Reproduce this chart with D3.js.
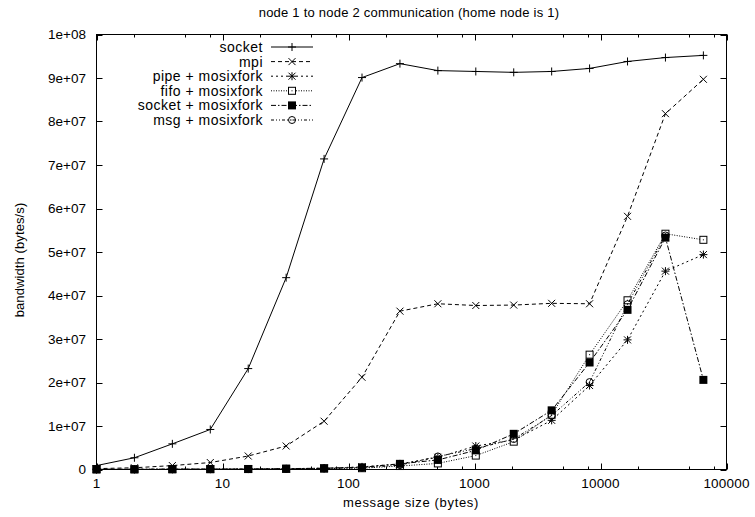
<!DOCTYPE html>
<html><head><meta charset="utf-8">
<script src="https://cdn.jsdelivr.net/npm/d3@7/dist/d3.min.js"></script>
<style>
html,body{margin:0;padding:0;background:#fff;}
text{font-family:"Liberation Sans",Arial,Helvetica,sans-serif;fill:#000;}
</style></head>
<body>
<script>
const sizes = [1,2,4,8,16,32,64,128,256,512,1024,2048,4096,8192,16384,32768,65536];
const socket     = [0.9e6,2.7e6,5.9e6,9.2e6,23.2e6,44.1e6,71.4e6,90.1e6,93.3e6,91.7e6,91.5e6,91.3e6,91.5e6,92.2e6,93.8e6,94.7e6,95.2e6];
const mpi        = [0.2e6,0.4e6,0.9e6,1.6e6,3.1e6,5.4e6,11.1e6,21.2e6,36.4e6,38.1e6,37.7e6,37.8e6,38.2e6,38.1e6,58.2e6,81.8e6,89.7e6];
const pipeMosix  = [0.02e6,0.04e6,0.06e6,0.08e6,0.1e6,0.15e6,0.3e6,0.6e6,1.3e6,2.8e6,5.4e6,6.8e6,11.3e6,19.3e6,29.8e6,45.6e6,49.4e6];
const fifoMosix  = [0.02e6,0.03e6,0.05e6,0.07e6,0.1e6,0.15e6,0.2e6,0.3e6,0.8e6,1.4e6,3.2e6,6.4e6,12.6e6,26.4e6,38.9e6,54.2e6,52.8e6];
const sockMosix  = [0.05e6,0.05e6,0.08e6,0.1e6,0.12e6,0.2e6,0.3e6,0.5e6,1.3e6,2.2e6,4.4e6,8.2e6,13.6e6,24.6e6,36.7e6,53.3e6,20.6e6];
const msgMosix   = [0.03e6,0.04e6,0.06e6,0.08e6,0.1e6,0.15e6,0.25e6,0.4e6,1.0e6,3.0e6,4.8e6,7.0e6,12.4e6,20.1e6,38.0e6,53.8e6];
const seriesNames = ["socket","mpi","pipe + mosixfork","fifo + mosixfork","socket + mosixfork","msg + mosixfork"];
const xTickValues = [1,10,100,1000,10000,100000];
const xTickLabels = ["1","10","100","1000","10000","100000"];
const yTickValues = [0,1e7,2e7,3e7,4e7,5e7,6e7,7e7,8e7,9e7,1e8];
const yTickLabels = ["0","1e+07","2e+07","3e+07","4e+07","5e+07","6e+07","7e+07","8e+07","9e+07","1e+08"];
const titleText = "node 1 to node 2 communication (home node is 1)";
const xLabel = "message size (bytes)";
const yLabel = "bandwidth (bytes/s)";

const W = 755, H = 517;
const L = 96.5, R = 726.5, T = 34.5, B = 469.5;
const svg = d3.select("body").append("svg").attr("width",W).attr("height",H);
const x = d3.scaleLog().domain([1,100000]).range([L,R]);
const y = d3.scaleLinear().domain([0,1e8]).range([B,T]);

const styles = [
  {dash:null, marker:"plus"},
  {dash:"4,3", marker:"cross"},
  {dash:"2,3", marker:"star"},
  {dash:"1,1.5", marker:"osq"},
  {dash:"5,2,1.5,2", marker:"fsq"},
  {dash:"3,2,1,2,1,2", marker:"ocirc"}
];
const data = [socket,mpi,pipeMosix,fifoMosix,sockMosix,msgMosix];

// frame
const g = svg.append("g");
g.append("rect").attr("x",L).attr("y",T).attr("width",R-L).attr("height",B-T)
  .attr("fill","none").attr("stroke","#000").attr("stroke-width",1);

// x ticks (major and minor, mirrored)
const minor = [];
for (let d=1; d<100000; d*=10) [2,5,8].forEach(m=>minor.push(d*m));
xTickValues.forEach(v=>{
  const px = Math.round(x(v))+0.5;
  g.append("line").attr("x1",px).attr("x2",px).attr("y1",B).attr("y2",B-6).attr("stroke","#000");
  g.append("line").attr("x1",px).attr("x2",px).attr("y1",T).attr("y2",T+6).attr("stroke","#000");
});
minor.forEach(v=>{
  const px = Math.round(x(v))+0.5;
  g.append("line").attr("x1",px).attr("x2",px).attr("y1",B).attr("y2",B-3).attr("stroke","#000");
  g.append("line").attr("x1",px).attr("x2",px).attr("y1",T).attr("y2",T+3).attr("stroke","#000");
});
xTickValues.forEach((v,i)=>{
  g.append("text").attr("x",x(v)).attr("y",488).attr("text-anchor","middle")
   .attr("font-size",13.5).attr("letter-spacing",0.2).text(xTickLabels[i]);
});
yTickValues.forEach((v,i)=>{
  const py = Math.round(y(v))+0.5;
  g.append("line").attr("x1",L).attr("x2",L+6).attr("y1",py).attr("y2",py).attr("stroke","#000");
  g.append("line").attr("x1",R).attr("x2",R-6).attr("y1",py).attr("y2",py).attr("stroke","#000");
  g.append("text").attr("x",86).attr("y",y(v)).attr("dy","0.35em").attr("text-anchor","end")
   .attr("font-size",13.5).text(yTickLabels[i]);
});

// labels
svg.append("text").attr("x",409).attr("y",17).attr("text-anchor","middle").attr("font-size",13)
  .attr("letter-spacing",0.23).text(titleText);
svg.append("text").attr("x",411).attr("y",507).attr("text-anchor","middle").attr("font-size",13)
  .attr("letter-spacing",0.65).text(xLabel);
svg.append("text").attr("transform","translate(24,260) rotate(-90)").attr("text-anchor","middle").attr("font-size",13)
  .attr("letter-spacing",0.1).text(yLabel);

function marker(sel, type, cx, cy){
  const s = 3.5;
  const gg = sel.append("g").attr("stroke","#000").attr("stroke-width",1).attr("fill","none");
  if (type==="plus"||type==="star"){
    gg.append("line").attr("x1",cx-4).attr("x2",cx+4).attr("y1",cy).attr("y2",cy);
    gg.append("line").attr("x1",cx).attr("x2",cx).attr("y1",cy-4).attr("y2",cy+4);
  }
  if (type==="cross"||type==="star"){
    gg.append("line").attr("x1",cx-s).attr("x2",cx+s).attr("y1",cy-s).attr("y2",cy+s);
    gg.append("line").attr("x1",cx-s).attr("x2",cx+s).attr("y1",cy+s).attr("y2",cy-s);
  }
  if (type==="osq"){
    gg.append("rect").attr("x",cx-3.5).attr("y",cy-3.5).attr("width",7).attr("height",7).attr("fill","#fff");
    gg.append("rect").attr("x",cx-0.5).attr("y",cy-0.5).attr("width",1).attr("height",1).attr("fill","#000").attr("stroke","none");
  }
  if (type==="fsq"){
    gg.append("rect").attr("x",cx-4).attr("y",cy-4).attr("width",8).attr("height",8).attr("fill","#000").attr("stroke","none");
  }
  if (type==="ocirc"){
    gg.append("circle").attr("cx",cx).attr("cy",cy).attr("r",3.5);
    gg.append("rect").attr("x",cx-0.5).attr("y",cy-0.5).attr("width",1).attr("height",1).attr("fill","#000").attr("stroke","none");
  }
}

const line = d3.line().x(d=>x(d[0])).y(d=>y(d[1]));
data.forEach((vals,i)=>{
  const pts = vals.map((v,j)=>[sizes[j],v]);
  const st = styles[i];
  const p = svg.append("path").datum(pts).attr("d",line).attr("fill","none")
    .attr("stroke","#000").attr("stroke-width",1);
  if (st.dash) p.attr("stroke-dasharray",st.dash);
  const mg = svg.append("g");
  pts.forEach(d=>marker(mg, st.marker, x(d[0]), y(d[1])));
});

// legend
seriesNames.forEach((name,i)=>{
  const ly = 47 + i*14.6;
  const st = styles[i];
  svg.append("text").attr("x",263).attr("y",ly).attr("dy","0.35em").attr("text-anchor","end")
    .attr("font-size",14).attr("letter-spacing",0.5).text(name);
  const l = svg.append("line").attr("x1",271).attr("x2",313).attr("y1",ly).attr("y2",ly)
    .attr("stroke","#000").attr("stroke-width",1);
  if (st.dash) l.attr("stroke-dasharray",st.dash);
  marker(svg, st.marker, 292, ly);
});
</script>
</body></html>
